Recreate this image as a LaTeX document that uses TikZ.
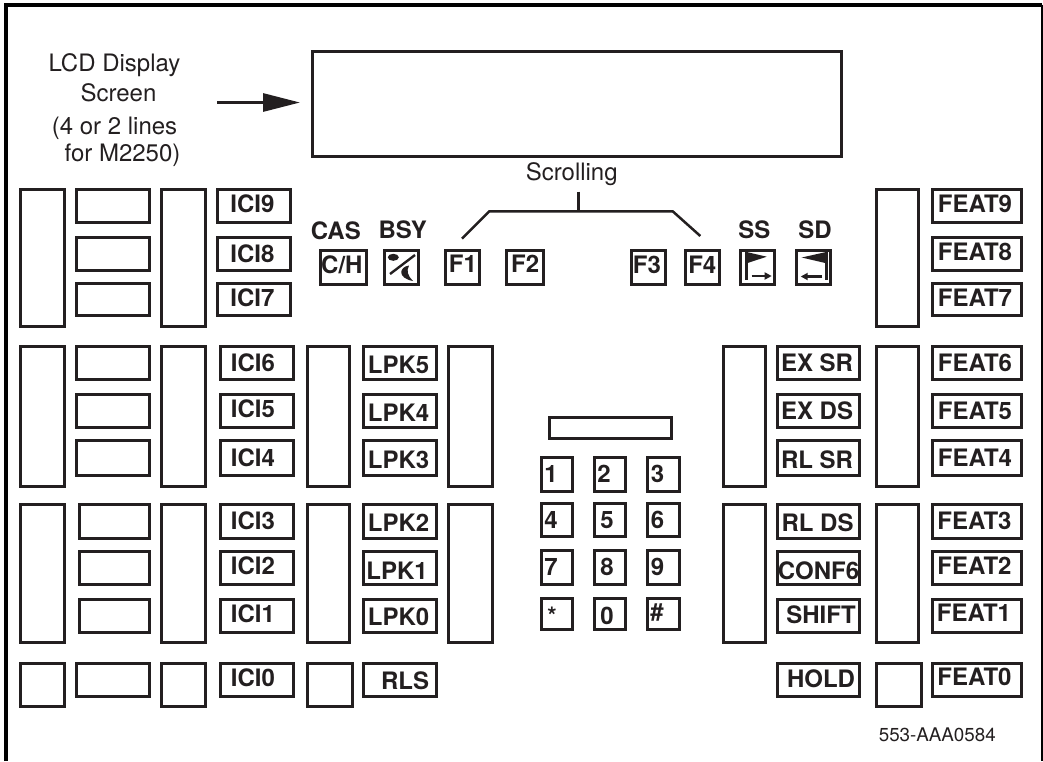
\documentclass[tikz,border=0pt]{standalone}
\usepackage{fontspec}
\setmainfont{TeX Gyre Heros}
\usetikzlibrary{arrows.meta}
\definecolor{ink}{HTML}{231F20}

\begin{document}
\begin{tikzpicture}[
        x=1pt, y=-1pt,
        box/.style = {rectangle, draw=ink, line width=3pt, fill=white, anchor=north west, inner sep=0pt, outer sep=1.25pt},
        bar/.style = {box, minimum width=44.2pt, minimum height=138.5pt},
        slimbar/.style = {box, minimum width=41.5pt, minimum height=138.5pt},
        square/.style = {box, minimum width=44.2pt, minimum height=43.5pt},
        blank/.style = {box, minimum width=73.2pt, minimum height=33pt},
        key/.style = {box, minimum width=73.2pt, minimum height=33pt, text=ink, text height=16pt, text depth=0pt, font=\fontsize{24}{28}\selectfont\bfseries},
        midkey/.style = {key, minimum width=82.5pt},
        featkey/.style = {key, minimum width=89.5pt},
        softkey/.style = {key, minimum width=34pt, minimum height=33.5pt},
        dial/.style = {key, minimum width=31.2pt, minimum height=33.5pt},
        low/.style = {text height=20pt},
        lower/.style = {text height=22pt},
        high/.style = {text depth=3pt},
        higher/.style = {text depth=5pt},
        caption/.style = {text=ink, font=\fontsize{24}{30}\selectfont, align=center},
        keyname/.style = {text=ink, font=\fontsize{24}{28}\selectfont\bfseries},
        bracket/.style = {draw=ink, line width=2.5pt},
        pointer/.style = {draw=ink, line width=3pt, -{Triangle[length=37pt,width=18pt]}},
        tinyarrow/.style = {draw=ink, line width=2.2pt, -{Triangle[length=7pt,width=7pt]}},
        ]
        \useasboundingbox (0,0) rectangle (1043,761);
        \draw[line width=4pt] (6,761) -- (6,4.5) -- (1042,4.5);
        \draw[line width=2pt] (1042,4.5) -- (1042,761);

        \node[box, minimum width=529pt, minimum height=104.8pt] (lcd) at (311.7,50) {};
        \node[caption] (lcdtext) at (114.5,110) {LCD Display\\[0pt]\hspace*{8pt}Screen\\[3pt](4 or 2 lines\\[-3pt]\hspace*{16pt}for M2250)};
        \coordinate (lcdtail) at (217,102.5);
        \draw[pointer, shorten >=11.7pt] (lcdtail) -- (lcdtail -| lcd.west);

        \node[caption, anchor=base] (scrolling) at (571.7,180.7) {Scrolling};
        \coordinate (stemtop) at (578.3,191.7);
        \coordinate (stemfoot) at (578.3,211.3);
        \coordinate (bendleft) at (489.3,211.3);
        \coordinate (bendright) at (672.7,211.3);
        \coordinate (endleft) at (462,238.7);
        \coordinate (endright) at (700.3,236);
        \draw[bracket] (endleft) -- (bendleft) -- (bendright) -- (endright);
        \draw[bracket] (stemtop) -- (stemfoot);

        \node[bar, minimum height=137pt] (barA) at (19,188.5) {};
        \node[blank] (blankA) at (75,188.5) {};
        \node[blank, minimum height=33.5pt] (blankB) at (75,236) {};
        \node[blank, minimum height=32.5pt] (blankC) at (75,282) {};
        \node[bar, minimum height=137pt] (barB) at (160.3,188.5) {};
        \node[key, high] (ici9) at (216,188.5) {\hspace*{-3pt}ICI9};
        \node[key, minimum height=33.5pt] (ici8) at (216,236) {\hspace*{-3pt}ICI8};
        \node[key, minimum height=32.5pt, high] (ici7) at (216,282) {\hspace*{-3pt}ICI7};

        \node[keyname] (cas) at (335.8,230.7) {CAS};
        \node[keyname] (bsy) at (402.7,230) {BSY};
        \node[keyname] (ss) at (754.3,229.3) {SS};
        \node[keyname] (sd) at (815,229.3) {SD};
        \node[softkey, minimum width=45.8pt, high] (ch) at (319.7,249.3) {\hspace*{-4pt}C/H};
        \node[softkey] (busy) at (383.7,249.3) {};
        \node[softkey, higher] (f1) at (444.7,249.3) {F1};
        \node[softkey, minimum width=36.5pt, higher] (f2) at (505.7,249.3) {F2};
        \node[softkey, high] (f3) at (630.7,249.3) {\hspace*{-4pt}F3};
        \node[softkey, high] (f4) at (684,249.3) {F4};
        \node[softkey] (scrollss) at (739.7,249.3) {};
        \node[softkey] (scrollsd) at (795.3,249.3) {};

        \draw[ink, line width=2.4pt] (390,274) -- (415,255);
        \fill[ink] (393.3,257.3) ellipse [x radius=5.5, y radius=3.5];
        \fill[ink] (409,265.5) .. controls (399,267) and (397,278) .. (413,281) .. controls (408,276) and (406,271) .. (409,265.5) -- cycle;

        \draw[ink, line width=2.6pt] (746.7,252) -- (746.7,280);
        \fill[ink] (745.3,251.7) -- (766.7,256.7) -- (746.7,263.3) -- cycle;
        \coordinate (ssarrow) at (751.7,276);
        \draw[tinyarrow] (ssarrow) -- ++(20,0);
        \draw[ink, line width=2.6pt] (826.7,252) -- (826.7,280);
        \fill[ink] (827.5,251.7) -- (801.7,257.5) -- (826.5,263.3) -- cycle;
        \coordinate (sdarrow) at (822.3,276.5);
        \draw[tinyarrow] (sdarrow) -- ++(-21.6,0);

        \node[slimbar, minimum height=137pt] (barC) at (875.7,188.5) {};
        \node[featkey, high] (feat9) at (931,188.5) {\hspace*{-4pt}FEAT9};
        \node[featkey, minimum height=33.5pt, high] (feat8) at (931,236) {\hspace*{-4pt}FEAT8};
        \node[featkey, minimum height=32.5pt, high] (feat7) at (931,282) {\hspace*{-4pt}FEAT7};

        \node[bar, minimum height=139.5pt] (barD) at (19,345.7) {};
        \node[blank] (blankD) at (75,345.7) {};
        \node[blank] (blankE) at (75,393.3) {};
        \node[blank, minimum height=35.5pt] (blankF) at (75,439) {};
        \node[bar, minimum height=139.5pt] (barE) at (160.3,345.7) {};
        \node[key] (ici6) at (219,345.7) {\hspace*{-8pt}ICI6};
        \node[key, high] (ici5) at (219,393.3) {\hspace*{-8pt}ICI5};
        \node[key, minimum height=35.5pt] (ici4) at (219,439) {\hspace*{-8pt}ICI4};
        \node[slimbar, minimum height=139.5pt] (barF) at (306.7,345.7) {};
        \node[key, low] (lpk5) at (362.3,345.7) {\hspace*{-3pt}LPK5};
        \node[key, low] (lpk4) at (362.3,393.3) {\hspace*{-3pt}LPK4};
        \node[key, minimum height=35.5pt, low] (lpk3) at (362.3,439) {\hspace*{-3pt}LPK3};
        \node[bar, minimum height=139.5pt] (barG) at (447.3,345.7) {};

        \node[slimbar, minimum height=139.5pt] (barH) at (722.7,345.7) {};
        \node[midkey] (exsr) at (776,345.7) {\hspace*{-3pt}EX SR};
        \node[midkey] (exds) at (776,393.3) {\hspace*{-3pt}EX DS};
        \node[midkey, minimum height=35.5pt, low] (rlsr) at (776,439) {\hspace*{-3pt}RL SR};
        \node[slimbar, minimum height=139.5pt] (barI) at (875.7,345.7) {};
        \node[featkey] (feat6) at (931,345.7) {\hspace*{-4pt}FEAT6};
        \node[featkey] (feat5) at (931,393.3) {\hspace*{-4pt}FEAT5};
        \node[featkey, minimum height=35.5pt] (feat4) at (931,439) {\hspace*{-4pt}FEAT4};

        \node[bar] (barJ) at (19,503) {};
        \node[blank, minimum width=70.2pt, minimum height=34.5pt] (blankG) at (78,503) {};
        \node[blank, minimum width=70.2pt] (blankH) at (78,550.3) {};
        \node[blank, minimum width=70.2pt] (blankI) at (78,598) {};
        \node[bar] (barK) at (160.3,503) {};
        \node[key, minimum height=34.5pt] (ici3) at (219,503) {\hspace*{-8pt}ICI3};
        \node[key, high] (ici2) at (219,550.3) {\hspace*{-8pt}ICI2};
        \node[key, high] (ici1) at (219,598) {\hspace*{-8pt}ICI1};
        \node[slimbar] (barL) at (306.7,503) {};
        \node[key, minimum height=34.5pt, low] (lpk2) at (362.3,503) {\hspace*{-3pt}LPK2};
        \node[key, lower] (lpk1) at (362.3,550.3) {\hspace*{-6pt}LPK1};
        \node[key, low] (lpk0) at (362.3,598) {\hspace*{-3pt}LPK0};
        \node[bar] (barM) at (447.3,503) {};

        \node[slimbar] (barN) at (722.7,503) {};
        \node[midkey, minimum height=34.5pt, low] (rlds) at (776,503) {\hspace*{-2pt}RL DS};
        \node[midkey, lower] (conf6) at (776,550.3) {CONF6};
        \node[midkey] (shift) at (776,598) {\hspace*{5pt}SHIFT};
        \node[slimbar] (barO) at (875.7,503) {};
        \node[featkey, minimum height=34.5pt] (feat3) at (931,503) {\hspace*{-5pt}FEAT3};
        \node[featkey, high] (feat2) at (931,550.3) {\hspace*{-5pt}FEAT2};
        \node[featkey, higher] (feat1) at (931,598) {\hspace*{-6pt}FEAT1};

        \node[square] (squareA) at (19,662) {};
        \node[blank] (blankJ) at (75,662) {};
        \node[square] (squareB) at (160.3,662) {};
        \node[key, high] (ici0) at (219,662) {\hspace*{-8pt}ICI0};
        \node[square] (squareC) at (306.7,662) {};
        \node[key, low] (rls) at (362.3,662) {\hspace*{10pt}RLS};
        \node[midkey] (hold) at (776,662) {\hspace*{5pt}HOLD};
        \node[square] (squareD) at (875.7,662) {};
        \node[featkey, higher] (feat0) at (931,662) {\hspace*{-5pt}FEAT0};

        \node[box, minimum width=121.5pt, minimum height=20.8pt] (dialbar) at (548.3,416.7) {};
        \node[dial] (d1) at (540.3,456.7) {\hspace*{-12pt}1};
        \node[dial] (d2) at (593.3,456.7) {\hspace*{-12pt}2};
        \node[dial] (d3) at (646.7,456.7) {\hspace*{-12pt}3};
        \node[dial] (d4) at (540.3,502) {\hspace*{-12pt}4};
        \node[dial] (d5) at (593.3,502) {\hspace*{-6pt}5};
        \node[dial] (d6) at (646.7,502) {\hspace*{-12pt}6};
        \node[dial] (d7) at (540.3,549.7) {\hspace*{-12pt}7};
        \node[dial] (d8) at (593.3,549.7) {\hspace*{-6pt}8};
        \node[dial] (d9) at (646.7,549.7) {\hspace*{-12pt}9};
        \node[dial, minimum height=31pt, low] (dstar) at (540.3,597.7) {\hspace*{-10pt}*};
        \node[dial, minimum height=31pt, low] (d0) at (593.3,597.7) {\hspace*{-6pt}0};
        \node[dial, minimum height=31pt, high] (dhash) at (646.7,597.7) {\hspace*{-13pt}\#};

        \node[caption, font=\fontsize{18.8}{22}\selectfont] (partno) at (937.3,735) {553-AAA0584};
\end{tikzpicture}
\end{document}
